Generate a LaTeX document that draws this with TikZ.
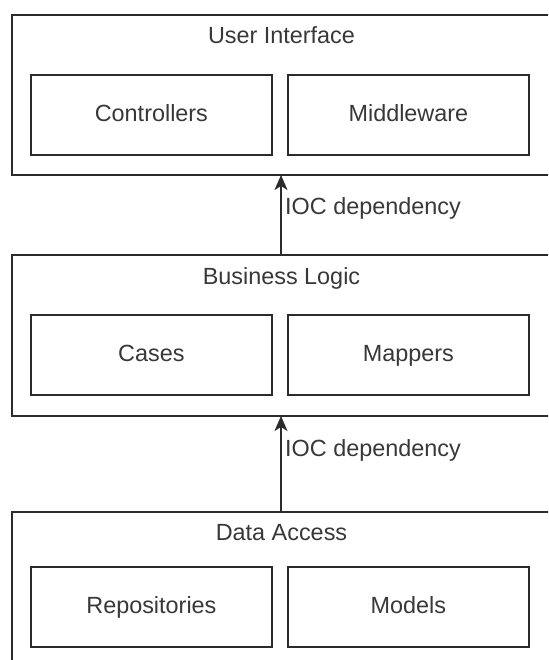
\documentclass[tikz,border=0pt]{standalone}
\usepackage{fontspec}
\setmainfont{Liberation Sans}
\usetikzlibrary{arrows.meta}
\definecolor{ink}{HTML}{2B2B2B}
\definecolor{txt}{HTML}{383838}
\tikzset{
  layer/.style={draw=ink, line width=1.8pt, fill=white, anchor=north west, inner sep=0pt},
  part/.style={draw=ink, line width=1.8pt, fill=white, minimum width=241pt, minimum height=80pt,
    anchor=north west, inner sep=0pt, font=\fontsize{23.4}{26}\selectfont, text=txt,
    text height=17pt, text depth=4pt},
  caption/.style={font=\fontsize{23.4}{26}\selectfont, text=txt, inner sep=0pt,
    text height=17pt, text depth=4pt},
  dep/.style={draw=ink, line width=1.8pt, arrows={-Stealth[length=15pt,width=13pt,inset=4pt]}},
  deplabel/.style={font=\fontsize{23.4}{26}\selectfont, text=txt, inner sep=0pt, anchor=west,
    text height=17pt, text depth=4pt}
}
\begin{document}
\begin{tikzpicture}[x=1pt,y=-1pt]
  \useasboundingbox (0,0) rectangle (548,660);
  \clip (0,0) rectangle (548,660);
  \fill[white] (0,0) rectangle (548,660);

  % presentation layer
  \node[layer, minimum width=541pt, minimum height=160pt] (ui) at (11,14) {};
  \node[caption] (uit) at (281.5,37) {User Interface};
  \node[part] (ctl) at (30,74) {Controllers};
  \node[part] (mid) at (287,74) {Middleware};

  % domain layer
  \node[layer, minimum width=541pt, minimum height=161pt] (bl) at (11,254) {};
  \node[caption] (blt) at (281.5,278) {Business Logic};
  \node[part] (cas) at (30,314) {Cases};
  \node[part] (map) at (287,314) {Mappers};

  % persistence layer
  \node[layer, minimum width=541pt, minimum height=161pt] (da) at (11,511) {};
  \node[caption] (dat) at (281.5,534) {Data Access};
  \node[part] (rep) at (30,566) {Repositories};
  \node[part] (mod) at (287,566) {Models};

  % dependencies
  \coordinate (blTop) at (281,254);
  \coordinate (uiBot) at (281,175);
  \coordinate (daTop) at (281,511);
  \coordinate (blBot) at (281,416);
  \draw[dep] (blTop) -- (uiBot);
  \draw[dep] (daTop) -- (blBot);
  \node[deplabel] (l1) at (285,208) {IOC dependency};
  \node[deplabel] (l2) at (285,450) {IOC dependency};
\end{tikzpicture}
\end{document}
